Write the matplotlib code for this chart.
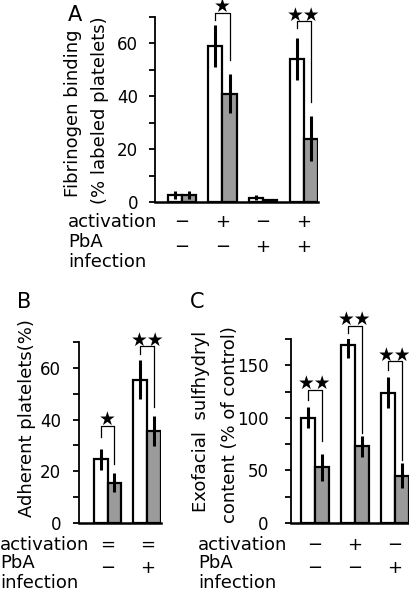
import matplotlib
matplotlib.use("Agg")
import matplotlib.pyplot as plt
import matplotlib.transforms as mtransforms

plt.rcParams['font.family'] = ['DejaVu Sans']

# ---------------- data ----------------
# panel A: fibrinogen binding (% labeled platelets)
a_white = [2.5, 59, 1.7, 54]
a_white_err = [1.5, 8, 1.0, 8]
a_gray = [2.6, 41, 0.9, 24]
a_gray_err = [1.5, 7.5, 0.4, 8.5]
a_act = ['\u2212', '+', '\u2212', '+']
a_pba = ['\u2212', '\u2212', '+', '+']
# brackets: (group, top, left leg end, right leg end, stars)
a_sig = [(1, 71.6, 69.0, 53.8, '\u2605'), (3, 68.4, 65.9, 38.0, '\u2605\u2605')]

# panel B: adherent platelets (%)
b_white = [24.6, 55.4]
b_white_err = [4.0, 7.5]
b_gray = [15.6, 35.5]
b_gray_err = [3.6, 5.8]
b_act = ['=', '=']
b_pba = ['\u2212', '+']
b_sig = [(0, 37.5, 33.4, 22.8, '\u2605'), (1, 68.3, 65.3, 45.0, '\u2605\u2605')]

# panel C: exofacial sulfhydryl content (% of control)
c_white = [100, 169, 124]
c_white_err = [10, 12, 15]
c_gray = [53, 73, 45]
c_gray_err = [13, 10, 12]
c_act = ['\u2212', '+', '\u2212']
c_pba = ['\u2212', '\u2212', '+']
c_sig = [(0, 126.8, 117.3, 77.7, '\u2605\u2605'), (1, 187.7, 180.7, 86.0, '\u2605\u2605'),
         (2, 153.8, 145.8, 60.0, '\u2605\u2605')]

W, H = 410, 591
fig = plt.figure(figsize=(W / 100, H / 100), dpi=100)

def px(x, y):
    return x / W, 1 - y / H

bw = 0.35
gray = '#9b9b9b'

def panel(rect, white, werr, grayv, gerr, sig, ymax, step, labstep, xlim, pad):
    ax = fig.add_axes(rect)
    n = len(white)
    xs = list(range(n))
    ax.bar([x - bw / 2 for x in xs], white, bw, color='white', edgecolor='black', linewidth=1.6, zorder=2)
    ax.bar([x + bw / 2 for x in xs], grayv, bw, color=gray, edgecolor='black', linewidth=1.6, zorder=2)
    ax.errorbar([x - bw / 2 for x in xs], white, yerr=werr, fmt='none', ecolor='black', elinewidth=2.2, capsize=0, zorder=3)
    ax.errorbar([x + bw / 2 for x in xs], grayv, yerr=gerr, fmt='none', ecolor='black', elinewidth=2.2, capsize=0, zorder=3)
    for g, top, lend, rend, stars in sig:
        xl, xr = g - bw / 2, g + bw / 2
        ax.plot([xl, xl, xr, xr], [lend, top, top, rend], color='black', lw=0.9, clip_on=False, zorder=4)
        ax.annotate(stars, (g, top), xytext=(0, 4.5), textcoords='offset points', ha='center', va='center',
                    fontsize=13.5, annotation_clip=False)
    ax.set_ylim(0, ymax)
    ax.set_xlim(*xlim)
    ax.set_yticks([v for v in range(0, ymax + 1, step)])
    ax.set_yticklabels([str(v) if v % labstep == 0 else '' for v in range(0, ymax + 1, step)])
    ax.set_xticks([])
    for s in ['top', 'right']:
        ax.spines[s].set_visible(False)
    ax.spines['left'].set_linewidth(1.3)
    ax.spines['bottom'].set_linewidth(1.8)
    ax.tick_params(axis='y', length=4, width=1.3, labelsize=12, pad=pad)
    return ax

axA = panel([155 / W, 1 - 202 / H, 163 / W, 185 / H], a_white, a_white_err, a_gray, a_gray_err,
            a_sig, 70, 10, 20, (-0.66, 3.35), 8)
axB = panel([79 / W, 1 - 523 / H, 82 / W, 181 / H], b_white, b_white_err, b_gray, b_gray_err,
            b_sig, 70, 10, 20, (-0.72, 1.35), 9)
axC = panel([291 / W, 1 - 523 / H, 118 / W, 184 / H], c_white, c_white_err, c_gray, c_gray_err,
            c_sig, 175, 25, 50, (-0.6, 2.35), 12)

def rows(ax, act, pba, xleft, y1, y2, y3, ys1, ys2):
    fig.text(*px(xleft, y1), 'activation', fontsize=13, ha='left', va='center')
    fig.text(*px(xleft, y2), 'PbA', fontsize=13, ha='left', va='center')
    fig.text(*px(xleft, y3), 'infection', fontsize=13, ha='left', va='center')
    tr = mtransforms.blended_transform_factory(ax.transData, fig.transFigure)
    for i, (s1, s2) in enumerate(zip(act, pba)):
        fig.text(i, px(0, ys1)[1], s1, transform=tr, fontsize=13, ha='center', va='center')
        fig.text(i, px(0, ys2)[1], s2, transform=tr, fontsize=13, ha='center', va='center')

rows(axA, a_act, a_pba, 68, 222, 242, 262, 222, 247)
rows(axB, b_act, b_pba, 0, 545, 563, 583, 545, 568)
rows(axC, c_act, c_pba, 198, 545, 563, 583, 545, 568)

# y labels
fig.text(*px(73, 113), 'Fibrinogen binding', rotation=90, fontsize=13, ha='center', va='center')
fig.text(*px(100, 110), '(% labeled platelets)', rotation=90, fontsize=13, ha='center', va='center')
fig.text(*px(27, 418), 'Adherent platelets(%)', rotation=90, fontsize=13, ha='center', va='center')
fig.text(*px(201, 421), 'Exofacial  sulfhydryl', rotation=90, fontsize=13, ha='center', va='center')
fig.text(*px(230, 425), 'content (% of control)', rotation=90, fontsize=13, ha='center', va='center')

# panel letters
fig.text(*px(75, 15), 'A', fontsize=15, ha='center', va='center')
fig.text(*px(24, 302), 'B', fontsize=15, ha='center', va='center')
fig.text(*px(197, 302), 'C', fontsize=15, ha='center', va='center')

fig.savefig('out.png', dpi=100)
